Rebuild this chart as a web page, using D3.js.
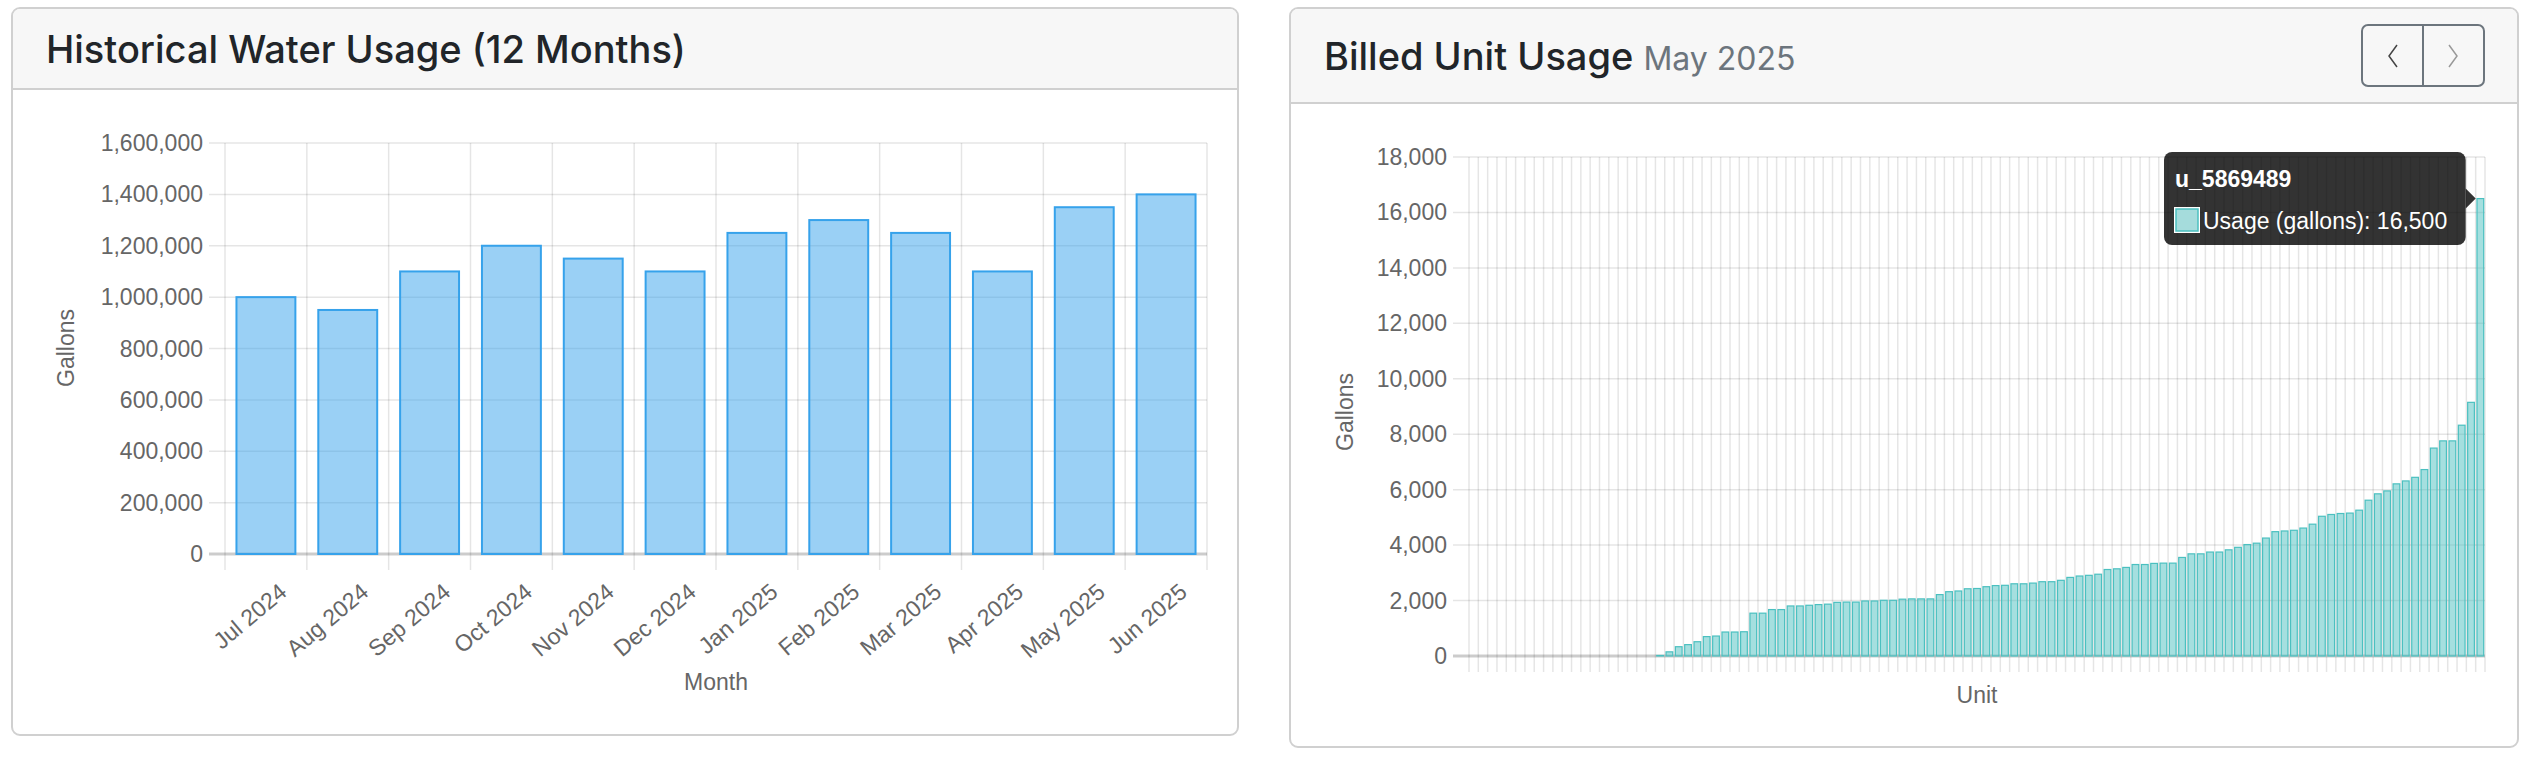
<!DOCTYPE html>
<html><head><meta charset="utf-8">
<script src="https://cdn.jsdelivr.net/npm/d3@7"></script>
<style>
body{margin:0;background:#fff;font-family:"Liberation Sans",Arial,sans-serif;}
svg{display:block}
</style></head>
<body>
<svg id="c" width="2530" height="762"></svg>
<script>
const months = ["Jul 2024","Aug 2024","Sep 2024","Oct 2024","Nov 2024","Dec 2024","Jan 2025","Feb 2025","Mar 2025","Apr 2025","May 2025","Jun 2025"];
const monthlyGallons = [1000000,950000,1100000,1200000,1150000,1100000,1250000,1300000,1250000,1100000,1350000,1400000];
const monthlyTicks = [0,200000,400000,600000,800000,1000000,1200000,1400000,1600000];
const unitUsage = [0,0,0,0,0,0,0,0,0,0,0,0,0,0,0,0,0,0,0,0,20,
 150,335,410,515,700,720,865,865,875,1545,1545,1675,1675,1805,1805,1830,1855,1870,1935,1945,1945,1985,1985,2010,2010,
 2050,2060,2060,2060,2215,2320,2345,2425,2435,2500,2540,2550,2605,2605,2630,2680,2680,2730,2835,2885,2910,2950,
 3120,3145,3195,3300,3300,3340,3350,3350,3555,3685,3685,3750,3750,3830,3920,4020,4070,4255,4485,4510,4535,4615,4755,
 5040,5105,5140,5155,5260,5620,5850,5955,6210,6315,6445,6725,7500,7760,7760,8325,9150,16500];
const unitIds = unitUsage.map((d,i)=> i===unitUsage.length-1 ? "u_5869489" : "unit_"+(i+1));
const unitTicks = [0,2000,4000,6000,8000,10000,12000,14000,16000,18000];

const svg = d3.select("#c");
const fmt = d3.format(",");
const grid = "rgba(0,0,0,0.1)";
const txt = "#666";
const FS = 23;

function card(x,y,w,h,hh){
  svg.append("rect").attr("x",x).attr("y",y).attr("width",w).attr("height",h).attr("rx",8)
    .attr("fill","#fff").attr("stroke","#d0d0d0").attr("stroke-width",2);
  svg.append("path").attr("d",`M${x+1},${y+hh} V${y+8} a7,7 0 0 1 7,-7 H${x+w-8} a7,7 0 0 1 7,7 V${y+hh} Z`).attr("fill","#f7f7f7");
  svg.append("line").attr("x1",x).attr("x2",x+w).attr("y1",y+hh).attr("y2",y+hh).attr("stroke","#d0d0d0").attr("stroke-width",2);
}
card(12,8,1226,727,81);
card(1290,8,1228,739,95);

svg.append("text").attr("x",46).attr("y",63).attr("font-size",38).attr("font-weight",500).attr("fill","#212529")
  .attr("font-family","Inter, 'Noto Sans', sans-serif").text("Historical Water Usage (12 Months)");
const t2 = svg.append("text").attr("x",1324).attr("y",70).attr("font-family","Inter, 'Noto Sans', sans-serif");
t2.append("tspan").attr("font-size",38).attr("font-weight",500).attr("fill","#212529").text("Billed Unit Usage ");
t2.append("tspan").attr("font-size",32).attr("fill","#6c757d").text("May 2025");
svg.append("rect").attr("x",2362).attr("y",25).attr("width",122).attr("height",61).attr("rx",6).attr("fill","none").attr("stroke","#6c757d").attr("stroke-width",2);
svg.append("line").attr("x1",2423).attr("x2",2423).attr("y1",25).attr("y2",86).attr("stroke","#6c757d").attr("stroke-width",2);
svg.append("path").attr("d","M2397,45 l-8,11 l8,11").attr("fill","none").attr("stroke","#444").attr("stroke-width",1.5);
svg.append("path").attr("d","M2449,45 l8,11 l-8,11").attr("fill","none").attr("stroke","#999").attr("stroke-width",1.5);

function barChart(o){
  const x = d3.scaleBand().domain(o.cats).range([o.x0,o.x1]).paddingInner(0).paddingOuter(0);
  const y = d3.scaleLinear().domain([0,o.ymax]).range([o.y0,o.y1]);
  const g = svg.append("g");
  g.selectAll(".hg").data(o.ticks).enter().append("line")
    .attr("x1",o.x0-16).attr("x2",o.x1).attr("y1",d=>y(d)).attr("y2",d=>y(d))
    .attr("stroke",d=>d===0?"rgba(0,0,0,0.2)":grid).attr("stroke-width",d=>d===0?3:1.5);
  const bounds = o.cats.map(c=>x(c)).concat([o.x1]);
  g.selectAll(".vg").data(bounds).enter().append("line")
    .attr("x1",d=>d).attr("x2",d=>d).attr("y1",o.y1).attr("y2",o.y0+16)
    .attr("stroke",grid).attr("stroke-width",1.5);
  g.selectAll(".yl").data(o.ticks).enter().append("text")
    .attr("x",o.x0-22).attr("y",d=>y(d)).attr("dy","0.35em").attr("text-anchor","end")
    .attr("font-size",FS).attr("fill",txt).text(d=>fmt(d));
  const bw = x.bandwidth()*0.72;
  g.selectAll(".b").data(o.vals).enter().append("rect")
    .attr("x",(d,i)=>x(o.cats[i])+(x.bandwidth()-bw)/2).attr("width",bw)
    .attr("y",d=>y(d)).attr("height",d=>o.y0-y(d))
    .attr("fill",o.fill).attr("stroke",o.stroke).attr("stroke-width",o.sw);
  return {x,y,g};
}

const L = barChart({cats:months,vals:monthlyGallons,ticks:monthlyTicks,ymax:1600000,x0:225,x1:1207,y0:554,y1:143,
  fill:"rgba(54,162,235,0.5)",stroke:"rgb(54,162,235)",sw:2});
L.g.selectAll(".xl").data(months).enter().append("text")
  .attr("transform",d=>`translate(${L.x(d)+L.x.bandwidth()/2+12},${582}) rotate(-40)`)
  .attr("text-anchor","end").attr("dy","0.7em").attr("font-size",FS).attr("fill",txt).text(d=>d);
svg.append("text").attr("transform","translate(74,348) rotate(-90)").attr("text-anchor","middle")
  .attr("font-size",FS).attr("fill",txt).text("Gallons");
svg.append("text").attr("x",716).attr("y",690).attr("text-anchor","middle").attr("font-size",FS).attr("fill",txt).text("Month");

const R = barChart({cats:unitIds,vals:unitUsage,ticks:unitTicks,ymax:18000,x0:1469,x1:2485,y0:656,y1:157,
  fill:"rgba(75,192,192,0.5)",stroke:"rgb(75,192,192)",sw:1.2});
svg.append("text").attr("transform","translate(1353,412) rotate(-90)").attr("text-anchor","middle")
  .attr("font-size",FS).attr("fill",txt).text("Gallons");
svg.append("text").attr("x",1977).attr("y",703).attr("text-anchor","middle").attr("font-size",FS).attr("fill",txt).text("Unit");

const li = unitUsage.length-1;
const tx = R.x(unitIds[li]) - 10, ty = R.y(unitUsage[li]);
const tt = svg.append("g");
tt.append("rect").attr("x",2164).attr("y",152).attr("width",tx-2164).attr("height",93).attr("rx",8).attr("fill","rgba(0,0,0,0.8)");
tt.append("path").attr("d",`M${tx},${ty-10} L${tx+10},${ty} L${tx},${ty+10} Z`).attr("fill","rgba(0,0,0,0.8)");
tt.append("text").attr("x",2175).attr("y",187).attr("font-size",23).attr("font-weight","bold").attr("fill","#fff").text(unitIds[li]);
tt.append("rect").attr("x",2175).attr("y",208).attr("width",24).attr("height",24).attr("fill","rgba(75,192,192,0.5)").attr("stroke","#fff").attr("stroke-width",2);
tt.append("rect").attr("x",2176).attr("y",209).attr("width",22).attr("height",22).attr("fill","rgba(165,220,220,1)").attr("stroke","rgb(75,192,192)").attr("stroke-width",1.5);
tt.append("text").attr("x",2203).attr("y",229).attr("font-size",23).attr("fill","#fff").text("Usage (gallons): "+fmt(unitUsage[li]));
</script>
</body></html>
